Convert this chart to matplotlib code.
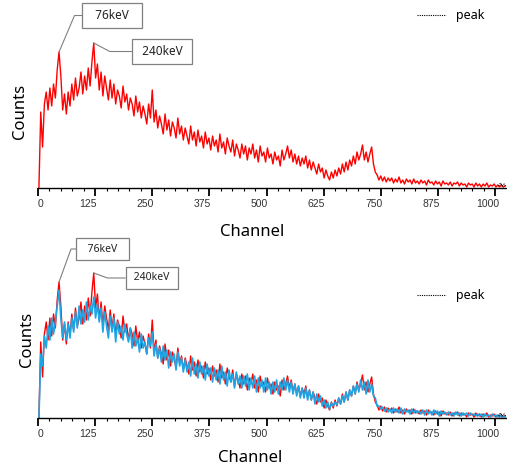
import numpy as np
import matplotlib
matplotlib.use("Agg")
import matplotlib.pyplot as plt
from matplotlib.ticker import MultipleLocator
from matplotlib.transforms import blended_transform_factory, ScaledTranslation

plt.rcParams['font.family'] = ['Noto Sans', 'DejaVu Sans']

# channel grid of the spectra (every 4th channel)
channels = np.arange(2, 1024, 4)

# red spectrum (top panel, repeated in the bottom panel)
red_counts = [
    0, 76, 41, 84, 96, 78, 100, 82, 104, 90, 118, 136, 112, 78, 94, 74,
    96, 82, 104, 88, 110, 92, 100, 116, 94, 112, 98, 120, 102, 126, 145, 110,
    124, 98, 116, 92, 112, 100, 88, 108, 90, 104, 84, 98, 92, 80, 102, 86,
    94, 78, 90, 84, 72, 92, 76, 86, 70, 82, 74, 64, 84, 70, 98, 66,
    78, 60, 72, 64, 54, 74, 58, 68, 52, 66, 60, 50, 70, 54, 62, 48,
    60, 52, 44, 62, 48, 56, 42, 58, 46, 52, 40, 56, 44, 50, 38, 52,
    42, 48, 36, 54, 40, 46, 34, 50, 42, 36, 48, 32, 44, 38, 30, 44,
    34, 42, 28, 40, 34, 44, 30, 38, 26, 42, 32, 36, 26, 40, 30, 34,
    24, 36, 28, 32, 22, 38, 28, 34, 42, 30, 38, 26, 34, 24, 32, 22,
    30, 24, 32, 20, 28, 18, 26, 20, 14, 24, 16, 20, 10, 18, 12, 8,
    16, 10, 18, 12, 20, 14, 24, 16, 26, 18, 28, 22, 32, 24, 36, 28,
    34, 43, 28, 36, 26, 34, 41, 24, 16, 13, 8, 12, 7, 11, 6, 10,
    7, 10, 5, 9, 6, 11, 5, 8, 4, 9, 6, 8, 4, 9, 5, 7,
    4, 8, 5, 7, 3, 8, 5, 6, 3, 7, 4, 6, 2, 7, 4, 5,
    3, 6, 2, 5, 4, 6, 2, 5, 3, 4, 1, 5, 3, 4, 1, 5,
    2, 4, 1, 4, 2, 5, 1, 3, 2, 4, 1, 3, 1, 3, 1, 2,
]

# blue spectrum (bottom panel)
blue_counts = [
    0, 64, 52, 82, 70, 92, 78, 100, 84, 96, 112, 128, 100, 80, 96, 78,
    94, 80, 100, 86, 106, 90, 112, 94, 108, 96, 116, 98, 112, 104, 121, 100,
    114, 96, 110, 86, 106, 92, 80, 102, 86, 100, 76, 96, 84, 92, 78, 94,
    84, 76, 90, 70, 86, 72, 80, 66, 84, 70, 76, 64, 80, 72, 86, 62,
    74, 60, 70, 56, 72, 58, 68, 50, 66, 56, 64, 48, 66, 52, 60, 46,
    58, 46, 56, 42, 60, 44, 54, 40, 56, 44, 52, 38, 54, 42, 50, 36,
    50, 38, 48, 34, 52, 38, 46, 32, 48, 36, 44, 30, 46, 34, 42, 30,
    42, 32, 44, 28, 40, 30, 42, 26, 40, 30, 38, 26, 40, 28, 36, 24,
    36, 26, 38, 24, 36, 28, 40, 28, 38, 26, 36, 24, 34, 22, 32, 20,
    30, 20, 30, 18, 28, 18, 26, 14, 24, 16, 22, 12, 18, 10, 16, 9,
    15, 12, 16, 13, 20, 14, 22, 16, 26, 18, 28, 22, 32, 24, 34, 26,
    38, 28, 36, 24, 38, 26, 34, 22, 20, 12, 12, 9, 11, 7, 10, 6,
    9, 5, 10, 6, 9, 5, 10, 4, 9, 6, 8, 4, 9, 5, 8, 5,
    7, 4, 8, 3, 8, 4, 7, 3, 8, 4, 7, 2, 7, 4, 6, 3,
    6, 3, 5, 2, 6, 3, 5, 2, 5, 3, 5, 2, 5, 3, 4, 2,
    4, 2, 4, 1, 4, 2, 3, 1, 4, 2, 3, 1, 3, 1, 2, 1,
]

# dotted "peak" trace (only visible at the far right)
peak_channels = [1008, 1012, 1016, 1020, 1024]
peak_counts = [2, 5, 2, 4, 1]

tick_channels = [0, 125, 250, 375, 500, 625, 750, 875, 1000]
peak_names = ['76keV', '240keV']
peak_windows = [(30, 60), (105, 135)]

channels = np.asarray(channels)
red_counts = np.asarray(red_counts)
blue_counts = np.asarray(blue_counts)

W, H = 507, 468
fig = plt.figure(figsize=(W / 100, H / 100), dpi=100)


def style_axis(ax):
    ax.set_xlim(0, 1024)
    ax.set_ylim(0, 178)
    for s in ['left', 'right', 'top']:
        ax.spines[s].set_visible(False)
    ax.spines['bottom'].set_linewidth(1.0)
    ax.set_yticks([])
    ax.set_xticks(tick_channels)
    ax.xaxis.set_minor_locator(MultipleLocator(25))
    ax.tick_params(axis='x', which='major', direction='out', length=5.5, width=1.3, labelbottom=False)
    ax.tick_params(axis='x', which='minor', direction='out', length=2.5, width=0.8)
    ax.patch.set_alpha(0)
    # tick labels sit a little left of their ticks in the original
    base = blended_transform_factory(ax.transData, ax.transAxes)
    for ch in tick_channels:
        dx = 3 if ch == 0 else -7
        tr = base + ScaledTranslation(dx / 100, -16 / 100, fig.dpi_scale_trans)
        ax.text(ch, 0, str(ch), transform=tr, ha='center', va='center', fontsize=7.5,
                color='#333333', family='Liberation Sans')


def add_labels(ax, boxes, fs, angles, pads):
    # leader lines from each peak to its label box
    for (lo, hi), name, (bx, by), ang, pad in zip(peak_windows, peak_names, boxes, angles, pads):
        sel = (channels >= lo) & (channels <= hi)
        i = np.argmax(np.where(sel, red_counts, -1))
        ax.annotate(' ' * pad + name + ' ' * pad, xy=(channels[i], red_counts[i]), xycoords='data',
                    xytext=(bx / W, 1 - by / H), textcoords='figure fraction',
                    ha='center', va='center', fontsize=fs, color='#222222',
                    bbox=dict(boxstyle='square,pad=0.55', fc='white', ec='#808080', lw=0.9),
                    arrowprops=dict(arrowstyle='-', color='#808080', lw=0.8,
                                    connectionstyle='angle,angleA=0,angleB=%g,rad=0' % ang,
                                    shrinkA=0, shrinkB=0),
                    annotation_clip=False)


def add_legend(ax, y):
    ax.legend(loc='center left', bbox_to_anchor=(417 / W, 1 - y / H), bbox_transform=fig.transFigure,
              frameon=False, borderpad=0, borderaxespad=0, handlelength=2.3, handletextpad=0.8,
              fontsize=9)


# top panel
ax1 = fig.add_axes([38 / W, 1 - 188 / H, 468 / W, 178 / H])
ax1.plot(channels, red_counts, color='#ff0000', lw=1.0)
ax1.plot(peak_channels, peak_counts, linestyle=(0, (1, 1)), color='black', lw=0.8, label='peak')
style_axis(ax1)
add_labels(ax1, [(112, 15.5), (162, 51.5)], 8.5, [67, -28], [2, 1])
add_legend(ax1, 16)
fig.text(20 / W, 1 - 111 / H, 'Counts', rotation=90, ha='center', va='center', fontsize=12)
fig.text(252 / W, 1 - 232 / H, 'Channel', ha='center', va='center', fontsize=12)

# bottom panel
ax2 = fig.add_axes([38 / W, 1 - 418 / H, 468 / W, 178 / H])
ax2.plot(channels, red_counts, color='#ff0000', lw=1.0)
ax2.plot(channels, blue_counts, color='#1ea5e6', lw=1.2)
ax2.plot(peak_channels, peak_counts, linestyle=(0, (1, 1)), color='black', lw=0.8, label='peak')
style_axis(ax2)
add_labels(ax2, [(102.5, 249), (152, 278)], 7.5, [70, -20], [2, 1])
add_legend(ax2, 296)
fig.text(27 / W, 1 - 339 / H, 'Counts', rotation=90, ha='center', va='center', fontsize=12)
fig.text(250 / W, 1 - 458 / H, 'Channel', ha='center', va='center', fontsize=12)

fig.savefig('out.png', dpi=100)
